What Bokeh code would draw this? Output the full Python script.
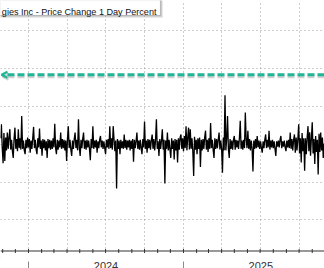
import pandas as pd
from bokeh.plotting import figure
from bokeh.models import (Range1d, Grid, FixedTicker, BoxAnnotation, Span, Label,
                          Arrow, OpenHead, ColumnDataSource)
from bokeh.embed import file_html
from bokeh.resources import INLINE

# ---------------- data ----------------
title_text = "gies Inc - Price Change 1 Day Percent"
start_date = "2023-10-27"
step = "2D"
pct_change = [
    0.8, 2.65, -0.5, -2.5, 1.5, -2.2, 0.9, -0.8, 1.55, -0.6,
    0.9, 2.0, -0.7, 0.6, -0.9, -1.8, 0.8, 2.2, -0.6, 0.7,
    -0.9, 2.0, -0.5, 0.8, -0.7, 3.75, -0.6, 0.5, -0.8, -1.3,
    0.6, -0.5, 0.9, -0.4, 0.7, -1.1, 0.5, -0.6, 0.8, 2.3,
    -0.5, 0.6, -0.7, -1.3, 0.8, -0.4, 2.1, -0.6, 0.5, -1.5,
    0.7, -0.5, 0.6, -0.8, 0.4, -1.8, 0.7, -0.5, 0.6, -0.7,
    0.5, -0.6, 0.8, -0.4, 2.7, -0.5, -1.3, 0.6, -0.7, 0.5,
    -0.4, 1.55, -0.6, 0.7, -0.5, 0.6, -0.8, 0.5, -2.2, 0.7,
    2.4, -0.5, 0.6, -0.7, -1.55, 0.5, -0.6, 0.7, 1.55, -0.5,
    0.6, -0.8, 3.3, -0.4, -1.55, 0.6, -0.5, 0.7, 1.55, -0.6,
    0.5, -0.7, 0.6, -0.4, 0.5, -0.6, -2.1, 0.7, -0.5, 2.4,
    -0.6, 0.5, -0.4, 0.6, -1.1, 0.4, -0.5, 0.6, 1.1, -0.4,
    0.5, -0.6, 0.4, -0.5, -1.3, 0.6, -0.4, 0.7, -0.6, 2.4,
    -0.5, 0.8, -0.7, 2.4, 0.6, -0.9, 0.5, -5.85, 0.7, -0.6,
    0.5, -1.3, 0.6, -0.5, 0.4, -0.6, 1.3, -0.5, 0.6, -0.7,
    0.5, -0.4, 0.6, -0.8, 0.5, -0.6, 0.7, -2.3, 0.6, -0.5,
    0.4, 1.55, -0.6, 0.5, -0.7, 0.6, -0.5, -1.3, 0.7, -0.4,
    3.0, -0.6, 0.5, -1.1, 0.7, -0.5, 0.6, -0.7, 0.5, 1.3,
    -0.6, 0.7, -0.8, 0.5, 3.3, -0.6, 0.4, -1.55, 0.7, -0.6,
    0.5, 2.0, -0.7, 0.6, -5.2, 0.5, -0.6, 1.55, -0.8, 0.6,
    -0.7, -1.8, 0.8, -0.6, 0.5, -2.0, 0.7, -0.8, 0.6, -2.4,
    0.8, -0.7, 0.9, 1.3, -0.6, 0.8, -0.9, 1.1, -0.5, 2.4,
    -0.8, 0.9, 2.2, -0.7, 2.0, -0.6, 0.8, -0.9, -4.2, 1.0,
    -0.7, 0.6, -1.3, 0.8, -0.6, 0.9, -3.0, 0.6, -0.8, 0.7,
    -0.6, 0.9, 1.8, -0.7, 0.6, -1.0, 0.8, -0.6, 2.8, -0.5,
    0.6, -0.7, -1.8, 0.8, -0.6, 0.7, -0.5, 0.6, 1.55, -0.7,
    0.5, -0.6, -3.75, 0.9, -0.8, 6.5, -0.8, 0.7, 3.75, -0.6,
    -1.8, 0.7, -0.6, 0.5, -0.7, 0.6, 1.1, -0.7, 0.6, -0.4,
    0.5, -0.6, 0.8, 3.1, -0.6, 0.5, -0.7, 0.6, -0.5, 4.2,
    0.6, -0.5, 1.8, -0.6, 0.7, -0.8, 0.5, -0.6, -3.6, 0.5,
    -0.6, 0.7, -0.5, 1.1, -0.4, 0.5, -0.6, 0.4, -0.5, -1.1,
    0.4, -0.5, 0.6, 1.3, -0.5, 0.6, -0.4, 1.8, -0.7, 0.5,
    -0.4, 0.6, -0.5, 0.4, -0.6, -1.55, 0.4, -0.3, 0.5, -0.4,
    0.6, 1.1, -0.5, 0.4, -0.3, 0.5, -0.4, -0.9, 0.5, -0.4,
    0.6, -0.5, 1.55, -0.6, 0.7, -0.8, 0.6, 1.3, -1.1, 0.9,
    -0.8, 0.7, 2.65, -1.2, 0.8, -2.4, 1.5, -0.9, 0.8, -3.5,
    0.8, -1.3, 0.9, 2.4, -0.9, 1.6, -1.5, 0.8, 2.9, -1.2,
    0.7, -2.6, 1.1, -1.0, 0.6, -4.0, 1.4, -1.0, 1.55, -0.8,
    0.9, -1.8, 0.1,
]
alert_level = [9.2]
year_labels = ["2024", "2025"]
year_starts = ["2024-01-01", "2025-01-01", "2026-01-01"]
y_grid_values = [-15, -10, -5, 0, 5, 10, 15]

# ---------------- layout helpers ----------------
W, H = 324, 268
MS_DAY = 86400000.0
ref_ms = pd.Timestamp("2024-01-01").value / 1e6
ref_px = 28.0
days_per_px = 366.0 / 155.0
zero_py = 143.8
px_per_unit = 7.56


def px_to_x(px):
    return ref_ms + (px - ref_px) * days_per_px * MS_DAY


def py_to_y(py):
    return (zero_py - py) / px_per_unit


def ms(d):
    return pd.Timestamp(d).value / 1e6


x_left, x_right = px_to_x(0), px_to_x(W)
y_top, y_bottom = py_to_y(0), py_to_y(H)

dates = pd.date_range(start_date, periods=len(pct_change), freq=step)
src = ColumnDataSource(dict(x=[ms(d) for d in dates], y=pct_change))

p = figure(width=W, height=H, x_axis_location=None, y_axis_location=None,
           x_range=Range1d(x_left, x_right), y_range=Range1d(y_bottom, y_top),
           output_backend="svg", toolbar_location=None, min_border=0,
           outline_line_color=None, background_fill_color="white")
p.center = []

quarters = [ms(d) for d in pd.date_range("2023-10-01", "2025-12-31", freq="QS")]
months = [ms(d) for d in pd.date_range("2023-11-01", "2025-12-01", freq="MS")]

p.add_layout(Grid(dimension=0, ticker=FixedTicker(ticks=quarters),
                  grid_line_color="#9a9a9a", grid_line_dash="1 3", grid_line_width=1))
p.add_layout(Grid(dimension=1, ticker=FixedTicker(ticks=y_grid_values),
                  grid_line_color="#9a9a9a", grid_line_dash="1 3", grid_line_width=1))

# series
p.line("x", "y", source=src, line_color="black", line_width=1.3)

# alert line with shadow and arrow head
teal = "#1fb596"
lvl = alert_level[0]
shadow_off = 2.0 / px_per_unit
p.add_layout(Arrow(x_start=px_to_x(W + 10), y_start=lvl - shadow_off,
                   x_end=px_to_x(2), y_end=lvl - shadow_off,
                   line_color="#7a7a7a", line_alpha=0.35, line_width=3, line_dash="7 3",
                   end=OpenHead(size=6, line_color="#7a7a7a", line_alpha=0.35, line_width=2)))
p.add_layout(Arrow(x_start=px_to_x(W + 10), y_start=lvl, x_end=px_to_x(1), y_end=lvl,
                   line_color=teal, line_width=3, line_dash="7 3",
                   end=OpenHead(size=6, line_color=teal, line_width=2)))

# title box with a soft shadow
p.add_layout(BoxAnnotation(left=px_to_x(-20), right=px_to_x(162), top=py_to_y(-20),
                           bottom=py_to_y(17), fill_color="#9a9a9a", fill_alpha=0.45,
                           line_color=None))
p.add_layout(BoxAnnotation(left=px_to_x(-20), right=px_to_x(160), top=py_to_y(-20),
                           bottom=py_to_y(15), fill_color="white", fill_alpha=1,
                           line_color="#4a4a4a", line_width=1.2))
p.add_layout(Label(x=px_to_x(156), y=py_to_y(11.5), text=title_text,
                   text_align="right", text_baseline="alphabetic",
                   text_font="Liberation Sans", text_font_size="9.1px", text_color="#111111"))

# x axis area
axis_py = 250.5
p.add_layout(BoxAnnotation(bottom=py_to_y(H + 20), top=py_to_y(axis_py),
                           left=px_to_x(-20), right=px_to_x(W + 20),
                           fill_color="white", fill_alpha=1, line_color=None))
p.add_layout(Span(location=py_to_y(axis_py), dimension="width",
                  line_color="#333333", line_width=1))
p.segment(x0=months, y0=[py_to_y(248.5)] * len(months), x1=months,
          y1=[py_to_y(252.5)] * len(months), line_color="#333333", line_width=1, level="overlay")
ys = [ms(d) for d in year_starts]
p.segment(x0=ys, y0=[py_to_y(261)] * len(ys), x1=ys, y1=[py_to_y(H + 5)] * len(ys),
          line_color="#8a8a8a", line_width=1, level="overlay")
for i, lab in enumerate(year_labels):
    mid = (ys[i] + ys[i + 1]) / 2
    p.add_layout(Label(x=mid, y=py_to_y(261.5), text=lab, text_align="center",
                       text_baseline="top", text_font="Liberation Sans",
                       text_font_size="11px", text_color="#333333"))

open("out.html", "w").write(file_html(p, INLINE))
